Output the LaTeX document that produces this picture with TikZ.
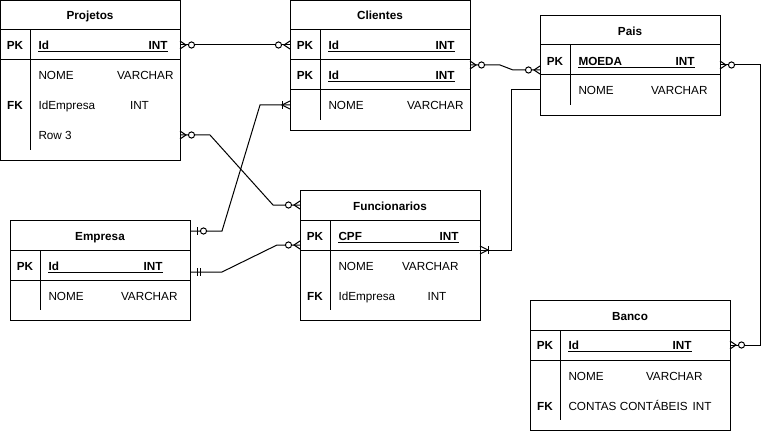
\documentclass[tikz,border=0pt]{standalone}
\usepackage{fontspec}
\setmainfont{Liberation Sans}
\usetikzlibrary{calc}
\newcommand\fs{\fontsize{8.8}{10}\selectfont}
% markers: #1 = coordinate name, #2 = direction (1 = to the right, -1 = to the left)
\newcommand\mOpt[2]{%
  \draw ($(#1)+(0,-4)$) -- ($(#1)+({6*(#2)},0)$) -- ($(#1)+(0,4)$);
  \draw[fill=white] ($(#1)+({11.5*(#2)},0)$) circle[radius=2.3pt];}
\newcommand\mMany[2]{%
  \draw ($(#1)+(0,-4)$) -- ($(#1)+({8*(#2)},0)$) -- ($(#1)+(0,4)$);
  \draw ($(#1)+({8*(#2)},-4)$) -- ($(#1)+({8*(#2)},4)$);}
\newcommand\mOne[2]{%
  \draw ($(#1)+({7*(#2)},-4)$) -- ($(#1)+({7*(#2)},4)$);
  \draw ($(#1)+({10.5*(#2)},-4)$) -- ($(#1)+({10.5*(#2)},4)$);}
\newcommand\mOneOpt[2]{%
  \draw ($(#1)+({7*(#2)},-4)$) -- ($(#1)+({7*(#2)},4)$);
  \draw[fill=white] ($(#1)+({13.5*(#2)},0)$) circle[radius=2.3pt];}
\begin{document}
\begin{tikzpicture}[x=0.75pt,y=-0.75pt,line width=0.75pt,
  every node/.style={inner sep=0pt,font=\fs},
  tbox/.style={draw,anchor=north west,inner sep=0pt},
  ttl/.style={anchor=base,font=\fs\bfseries},
  key/.style={anchor=base,font=\fs\bfseries},
  fld/.style={anchor=base west},
  ufld/.style={anchor=base west,font=\fs\bfseries},
  typ/.style={anchor=base east},
  utyp/.style={anchor=base east,font=\fs\bfseries},
  rule/.style={line width=0.75pt}]
\useasboundingbox (0,0) rectangle (770,431);

% ---------- Projetos ----------
\node[tbox,minimum width=135pt,minimum height=120pt] (proj) at (0,0) {};
\draw[rule] (0,30) -- (180,30) (0,60) -- (180,60) (30,30) -- (30,150);
\node[ttl] (proj-t) at (90,20) {Projetos};
\node[key] (proj-pk) at (15,50) {PK};
\node[ufld] (proj-id) at (38,50) {Id};
\node[utyp] (proj-idt) at (168,50) {INT};
\draw[rule] (38,52) -- (168,52);
\node[fld] (proj-n) at (38,80) {NOME};
\node[typ] (proj-nt) at (174,80) {VARCHAR};
\node[key] (proj-fk) at (15,110) {FK};
\node[fld] (proj-e) at (38,110) {IdEmpresa};
\node[fld] (proj-et) at (129.5,110) {INT};
\node[fld] (proj-r) at (38,140) {Row 3};

% ---------- Clientes ----------
\node[tbox,minimum width=135pt,minimum height=97.5pt] (cli) at (290,0) {};
\draw[rule] (290,30) -- (470,30) (290,60) -- (470,60) (290,90) -- (470,90) (320,30) -- (320,120);
\node[ttl] (cli-t) at (380,20) {Clientes};
\node[key] (cli-pk1) at (305,50) {PK};
\node[ufld] (cli-id1) at (328,50) {Id};
\node[utyp] (cli-id1t) at (455,50) {INT};
\draw[rule] (328,52) -- (455,52);
\node[key] (cli-pk2) at (305,80) {PK};
\node[ufld] (cli-id2) at (328,80) {Id};
\node[utyp] (cli-id2t) at (455,80) {INT};
\draw[rule] (328,82) -- (455,82);
\node[fld] (cli-n) at (328,110) {NOME};
\node[typ] (cli-nt) at (464,110) {VARCHAR};

% ---------- Pais ----------
\node[tbox,minimum width=135pt,minimum height=75pt] (pais) at (540,15) {};
\draw[rule] (540,45) -- (720,45) (540,75) -- (720,75) (570,45) -- (570,105);
\node[ttl] (pais-t) at (630,35.5) {Pais};
\node[key] (pais-pk) at (555,65.5) {PK};
\node[ufld] (pais-m) at (578,65.5) {MOEDA};
\node[utyp] (pais-mt) at (695,65.5) {INT};
\draw[rule] (578,67.5) -- (695,67.5);
\node[fld] (pais-n) at (578,94.5) {NOME};
\node[typ] (pais-nt) at (708,94.5) {VARCHAR};

% ---------- Empresa ----------
\node[tbox,minimum width=135pt,minimum height=75pt] (emp) at (10,220) {};
\draw[rule] (10,250) -- (190,250) (10,280) -- (190,280) (40,250) -- (40,310);
\node[ttl] (emp-t) at (100,240) {Empresa};
\node[key] (emp-pk) at (25,270) {PK};
\node[ufld] (emp-id) at (48,270) {Id};
\node[utyp] (emp-idt) at (163,270) {INT};
\draw[rule] (48,272) -- (163,272);
\node[fld] (emp-n) at (48,300) {NOME};
\node[typ] (emp-nt) at (178,300) {VARCHAR};

% ---------- Funcionarios ----------
\node[tbox,minimum width=135pt,minimum height=97.5pt] (fun) at (300,190) {};
\draw[rule] (300,220) -- (480,220) (300,250) -- (480,250) (330,220) -- (330,310);
\node[ttl] (fun-t) at (390,210.5) {Funcionarios};
\node[key] (fun-pk) at (315,240.5) {PK};
\node[ufld] (fun-c) at (338,240.5) {CPF};
\node[utyp] (fun-ct) at (459,240.5) {INT};
\draw[rule] (338,242.5) -- (459,242.5);
\node[fld] (fun-n) at (338,270.5) {NOME};
\node[typ] (fun-nt) at (459,270.5) {VARCHAR};
\node[key] (fun-fk) at (315,300) {FK};
\node[fld] (fun-e) at (338,300) {IdEmpresa};
\node[fld] (fun-et) at (427,300) {INT};

% ---------- Banco ----------
\node[tbox,minimum width=150pt,minimum height=97.5pt] (banco) at (530,300) {};
\draw[rule] (530,330) -- (730,330) (530,360) -- (730,360) (560,330) -- (560,420);
\node[ttl] (ban-t) at (630,320) {Banco};
\node[key] (ban-pk) at (545,349.5) {PK};
\node[ufld] (ban-id) at (568,349.5) {Id};
\node[utyp] (ban-idt) at (692,349.5) {INT};
\draw[rule] (568,351.5) -- (692,351.5);
\node[fld] (ban-n) at (568,380.5) {NOME};
\node[typ] (ban-nt) at (703,380.5) {VARCHAR};
\node[key] (ban-fk) at (545,410) {FK};
\node[fld] (ban-c) at (568,410) {CONTAS CONTÁBEIS};
\node[typ] (ban-ct) at (712,410) {INT};

% ---------- connector end points ----------
\coordinate (c1a) at (180,45);  \coordinate (c1b) at (290,45);
\coordinate (c2a) at (180,135); \coordinate (c2b) at (300,205);
\coordinate (c3a) at (190,231); \coordinate (c3b) at (290,105);
\coordinate (c4a) at (190,272); \coordinate (c4b) at (300,245);
\coordinate (c5a) at (470,65);  \coordinate (c5b) at (540,70);
\coordinate (c6a) at (480,250); \coordinate (c6b) at (540,90);
\coordinate (c7a) at (720,65);  \coordinate (c7b) at (730,345);

% ---------- connectors ----------
\draw (c1a) -- (c1b);
\draw (c2a) -- ++(30,0) -- ($(c2b)+(-27,0)$) -- (c2b);
\draw (c3a) -- ++(32,0) -- ($(c3b)+(-30,0)$) -- (c3b);
\draw (c4a) -- ++(32,0) -- ($(c4b)+(-23,0)$) -- (c4b);
\draw (c5a) -- ++(30,0) -- ($(c5b)+(-27,0)$) -- (c5b);
\draw (c6a) -- ++(31,0) |- (c6b);
\draw (c7a) -- ++(40,0) |- (c7b);

% ---------- markers ----------
\mOpt{c1a}{1} \mOpt{c1b}{-1}
\mOpt{c2a}{1} \mOpt{c2b}{-1}
\mOneOpt{c3a}{1} \mMany{c3b}{-1}
\mOne{c4a}{1} \mOpt{c4b}{-1}
\mOpt{c5a}{1} \mOpt{c5b}{-1}
\mMany{c6a}{1}
\mOpt{c7a}{1} \mOpt{c7b}{1}
\end{tikzpicture}
\end{document}
